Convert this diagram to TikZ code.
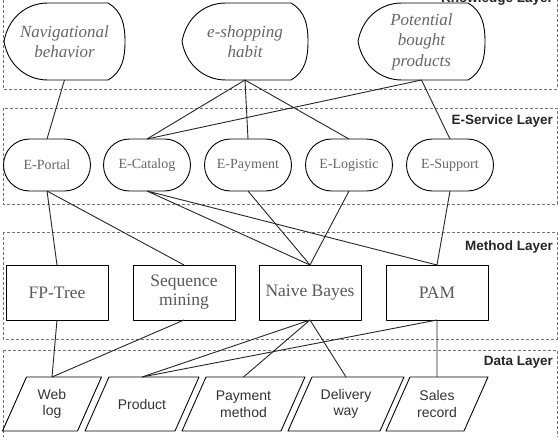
\documentclass[tikz,border=0pt]{standalone}
\usepackage{fontspec}
\setmainfont{Liberation Serif}
\setsansfont{Liberation Sans}
\usepackage{tikz}
\usetikzlibrary{shapes.misc}

\begin{document}
\begin{tikzpicture}[
        x=1pt, y=1pt,
        line width=0.9pt,
        line join=round,
        every node/.append style={align=center, outer sep=0pt}
    ]
    \tikzstyle{layer}=[draw=black!55, densely dashed, line width=1pt];
    \tikzstyle{lname}=[anchor=base east, inner sep=0pt, text=black!85, font=\fontsize{13.5}{16}\selectfont\sffamily\bfseries];
    \tikzstyle{know}=[minimum height=77pt, inner sep=0pt, text=black!60, font=\fontsize{17}{20.5}\selectfont\itshape];
    \tikzstyle{svc}=[draw, rounded rectangle, minimum width=87pt, minimum height=52pt, inner sep=0pt, text=black!60, font=\fontsize{14}{16}\selectfont];
    \tikzstyle{mth}=[draw, rectangle, minimum width=102pt, minimum height=55pt, inner sep=0pt, text=black!65, font=\fontsize{17.5}{19}\selectfont];
    \tikzstyle{dat}=[minimum height=54pt, inner sep=0pt, text=black!80, font=\fontsize{14}{16.5}\selectfont\sffamily];
    \tikzstyle{link}=[draw=black!85];
    \useasboundingbox (0,0) rectangle (558,-437);
    % layers
    \draw[layer] (3,20) rectangle (557,-89);
    \draw[layer] (3,-108) rectangle (557,-204);
    \draw[layer] (3,-232) rectangle (557,-339);
    \draw[layer] (3,-350) rectangle (557,-450);
    \node[lname] (lknow) at (553,-2) {Knowledge Layer};
    \node[lname] (lsvc) at (553,-124) {E-Service Layer};
    \node[lname] (lmth) at (553,-250) {Method Layer};
    \node[lname] (ldat) at (553,-365) {Data Layer};
    % knowledge
    \node[know, minimum width=121pt] (nav) at (64.5,-41.5) {Navigational\\behavior};
    \node[know, minimum width=126pt] (shop) at (245,-41.5) {e-shopping\\habit};
    \node[know, minimum width=127pt] (pot) at (421.5,-41.5) {Potential\\bought\\products};
    \foreach \k in {nav,shop,pot}
        \draw (\k.west) to[out=80,in=180] ([xshift=44pt]\k.north west)
            -- ([xshift=-17pt]\k.north east) to[out=-30,in=90] (\k.east)
            to[out=-90,in=30] ([xshift=-17pt]\k.south east)
            -- ([xshift=44pt]\k.south west) to[out=180,in=-80] (\k.west);
    % e-service
    \node[svc] (portal) at (47,-165) {E-Portal};
    \node[svc] (catalog) at (147,-165) {E-Catalog};
    \node[svc] (payment) at (248,-165) {E-Payment};
    \node[svc] (logistic) at (349,-165) {E-Logistic};
    \node[svc] (support) at (450,-165) {E-Support};
    % method
    \node[mth] (fptree) at (57,-292.5) {FP-Tree};
    \node[mth] (seq) at (184,-292.5) {Sequence\\mining};
    \node[mth] (bayes) at (310,-292.5) {Naive Bayes};
    \node[mth] (pam) at (437,-292.5) {PAM};
    % data
    \node[dat, minimum width=75pt] (weblog) at (52,-404) {Web\\log};
    \node[dat, minimum width=90pt] (product) at (142,-404) {Product};
    \node[dat, minimum width=99pt] (paymeth) at (243.5,-404) {Payment\\method};
    \node[dat, minimum width=92pt] (delivery) at (346,-404) {Delivery\\way};
    \node[dat, minimum width=78pt] (sales) at (437,-404) {Sales\\record};
    \foreach \d in {weblog,product,paymeth,delivery,sales}
        \draw ([xshift=-12pt]\d.south west) -- ([xshift=-12pt]\d.south east)
            -- ([xshift=12pt]\d.north east) -- ([xshift=12pt]\d.north west) -- cycle;
    % links
    \draw[link] (nav.south) -- (portal.north);
    \draw[link] (shop.south) -- (catalog.north) (shop.south) -- (payment.north) (shop.south) -- (logistic.north);
    \draw[link] (pot.south) -- (catalog.north) (pot.south) -- (support.north);
    \draw[link] (portal.south) -- (fptree.north) (portal.south) -- (seq.north);
    \draw[link] (catalog.south) -- (bayes.north) (catalog.south) -- (pam.north);
    \draw[link] (payment.south) -- (bayes.north) (logistic.south) -- (bayes.north);
    \draw[link] (support.south) -- (pam.north);
    \draw[link] (fptree.south) -- (weblog.north) (seq.south) -- (weblog.north);
    \draw[link] (bayes.south) -- (product.north) (bayes.south) -- (paymeth.north) (bayes.south) -- (delivery.north);
    \draw[link] (pam.south) -- (product.north) (pam.south) -- (sales.north);
\end{tikzpicture}
\end{document}
